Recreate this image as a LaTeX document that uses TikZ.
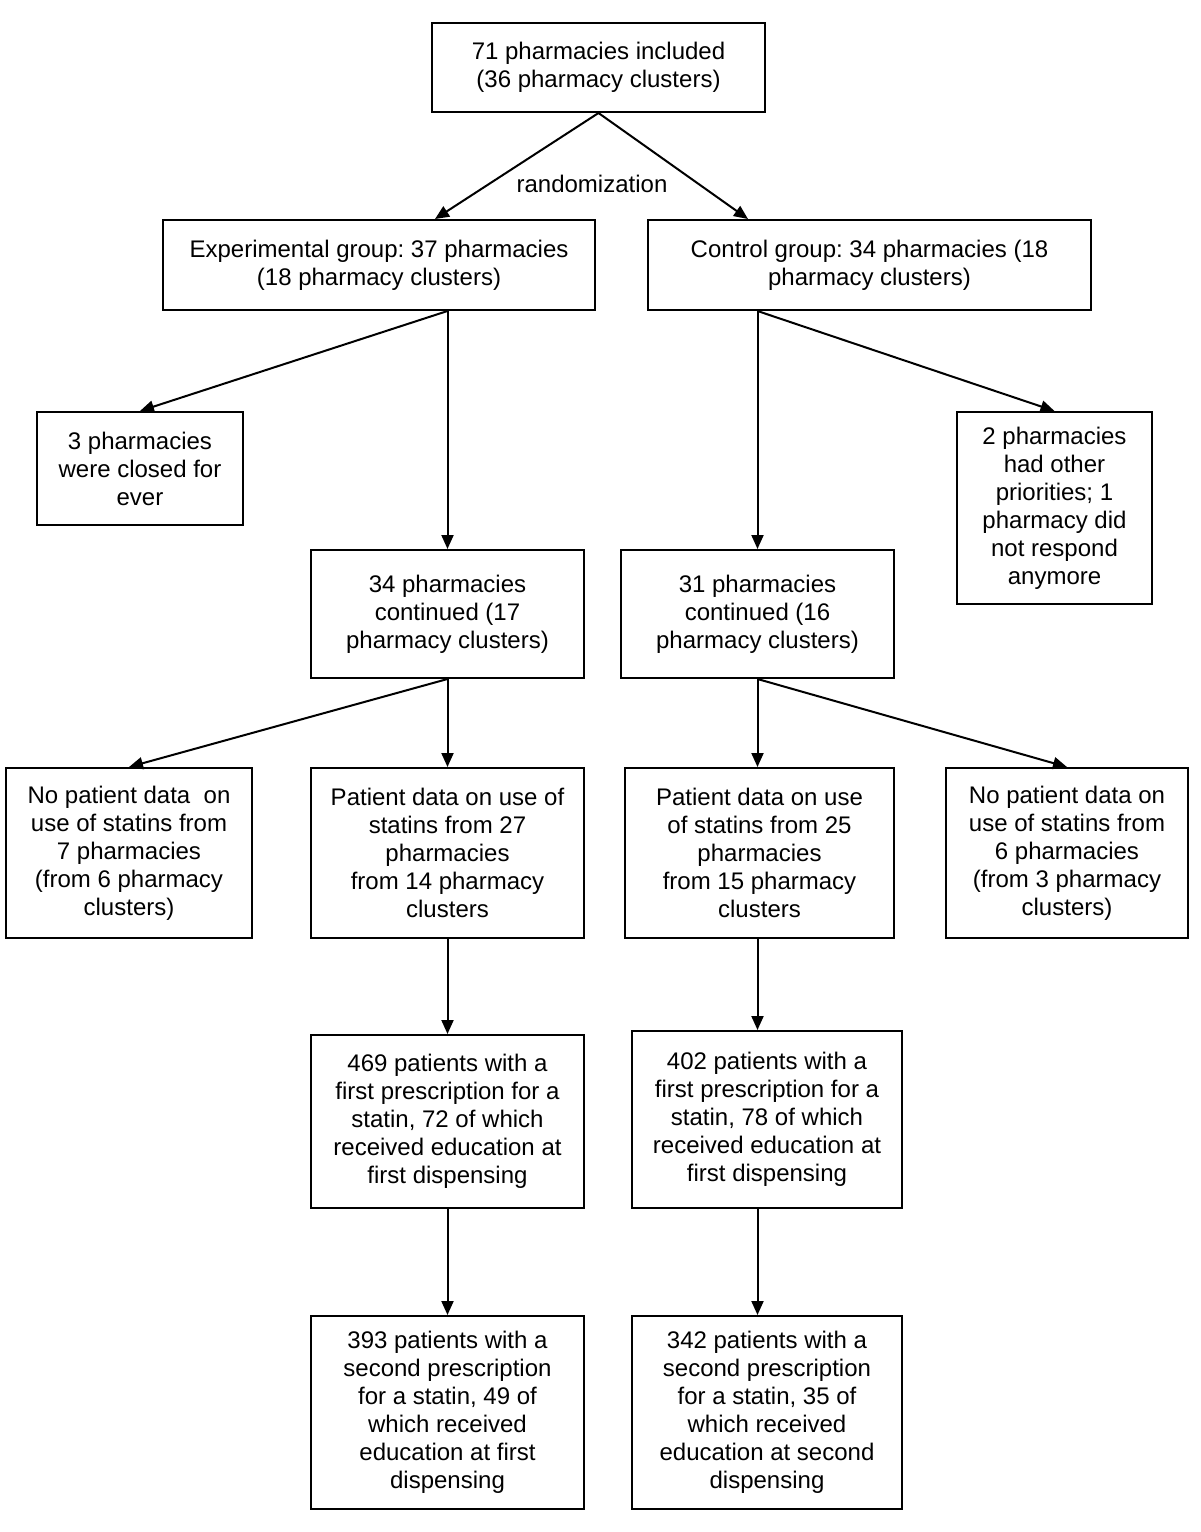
\documentclass[tikz,border=0pt]{standalone}
\usepackage{fontspec}
\setmainfont{Liberation Sans}
\usetikzlibrary{arrows.meta}
\tikzset{
	box/.style={draw, line width=1pt, align=center, inner sep=0pt,
		font=\fontsize{12}{14}\selectfont\frenchspacing},
	flow/.style={line width=1pt, -{Triangle[length=7pt,width=6pt]}}
}
\begin{document}
\begin{tikzpicture}[x=0.5pt,y=-0.5pt]
	\useasboundingbox (0,0) rectangle (1200,1532);
	% top and the two arms
	\node[box, minimum width=166.5pt, minimum height=44.5pt] (incl) at (598.5,67.5) {71 pharmacies included\\(36 pharmacy clusters)};
	\node[box, minimum width=216pt, minimum height=45pt] (expgrp) at (379,265) {Experimental group: 37 pharmacies\\(18 pharmacy clusters)};
	\node[box, minimum width=221.5pt, minimum height=45pt] (ctrlgrp) at (869.5,265) {Control group: 34 pharmacies (18\\pharmacy clusters)};
	\node[font=\fontsize{12}{14}\selectfont] (rand) at (592,184) {randomization};
	% drop-outs
	\node[box, minimum width=103pt, minimum height=56.5pt] (closed) at (140,468.5) {3 pharmacies\\were closed for\\ever};
	\node[box, minimum width=97.5pt, minimum height=96pt] (prio) at (1054.5,508) {2 pharmacies\\had other\\priorities; 1\\pharmacy did\\not respond\\anymore};
	% continued
	\node[box, minimum width=136.5pt, minimum height=64pt] (conte) at (447.5,614) {34 pharmacies\\continued (17\\pharmacy clusters)};
	\node[box, minimum width=136.5pt, minimum height=64pt] (contc) at (757.5,614) {31 pharmacies\\continued (16\\pharmacy clusters)};
	% patient data
	\node[box, minimum width=123pt, minimum height=85pt] (nodatae) at (129,853) {No patient data\ \ on\\use of statins from\\7 pharmacies\\(from 6 pharmacy\\clusters)};
	\node[box, minimum width=136.5pt, minimum height=85pt] (datae) at (447.5,853) {Patient data on use of\\statins from 27\\pharmacies\\from 14 pharmacy\\clusters};
	\node[box, minimum width=134.5pt, minimum height=85pt] (datac) at (759.5,853) {Patient data on use\\of statins from 25\\pharmacies\\from 15 pharmacy\\clusters};
	\node[box, minimum width=121pt, minimum height=85pt] (nodatac) at (1067,853) {No patient data on\\use of statins from\\6 pharmacies\\(from 3 pharmacy\\clusters)};
	% patients
	\node[box, minimum width=136.5pt, minimum height=86.5pt] (firste) at (447.5,1121.5) {469 patients with a\\first prescription for a\\statin, 72 of which\\received education at\\first dispensing};
	\node[box, minimum width=135pt, minimum height=88.5pt] (firstc) at (767,1119.5) {402 patients with a\\first prescription for a\\statin, 78 of which\\received education at\\first dispensing};
	\node[box, minimum width=136.5pt, minimum height=96.5pt] (seconde) at (447.5,1412.5) {393 patients with a\\second prescription\\for a statin, 49 of\\which received\\education at first\\dispensing};
	\node[box, minimum width=135pt, minimum height=96.5pt] (secondc) at (767,1412.5) {342 patients with a\\second prescription\\for a statin, 35 of\\which received\\education at second\\dispensing};
	% connectors
	\draw[flow] (incl.south) -- ([xshift=28pt]expgrp.north);
	\draw[flow] (incl.south) -- ([xshift=-60.75pt]ctrlgrp.north);
	\draw[flow] (expgrp.south -| conte.north) -- (closed.north);
	\draw[flow] (expgrp.south -| conte.north) -- (conte.north);
	\draw[flow] (ctrlgrp.south -| contc.north) -- (contc.north);
	\draw[flow] (ctrlgrp.south -| contc.north) -- (prio.north);
	\draw[flow] (conte.south) -- (nodatae.north);
	\draw[flow] (conte.south) -- (conte.south |- datae.north);
	\draw[flow] (contc.south) -- (contc.south |- datac.north);
	\draw[flow] (contc.south) -- (nodatac.north);
	\draw[flow] (datae.south) -- (datae.south |- firste.north);
	\draw[flow] (contc.south |- datac.south) -- (contc.south |- firstc.north);
	\draw[flow] (firste.south) -- (firste.south |- seconde.north);
	\draw[flow] (contc.south |- firstc.south) -- (contc.south |- secondc.north);
\end{tikzpicture}
\end{document}
